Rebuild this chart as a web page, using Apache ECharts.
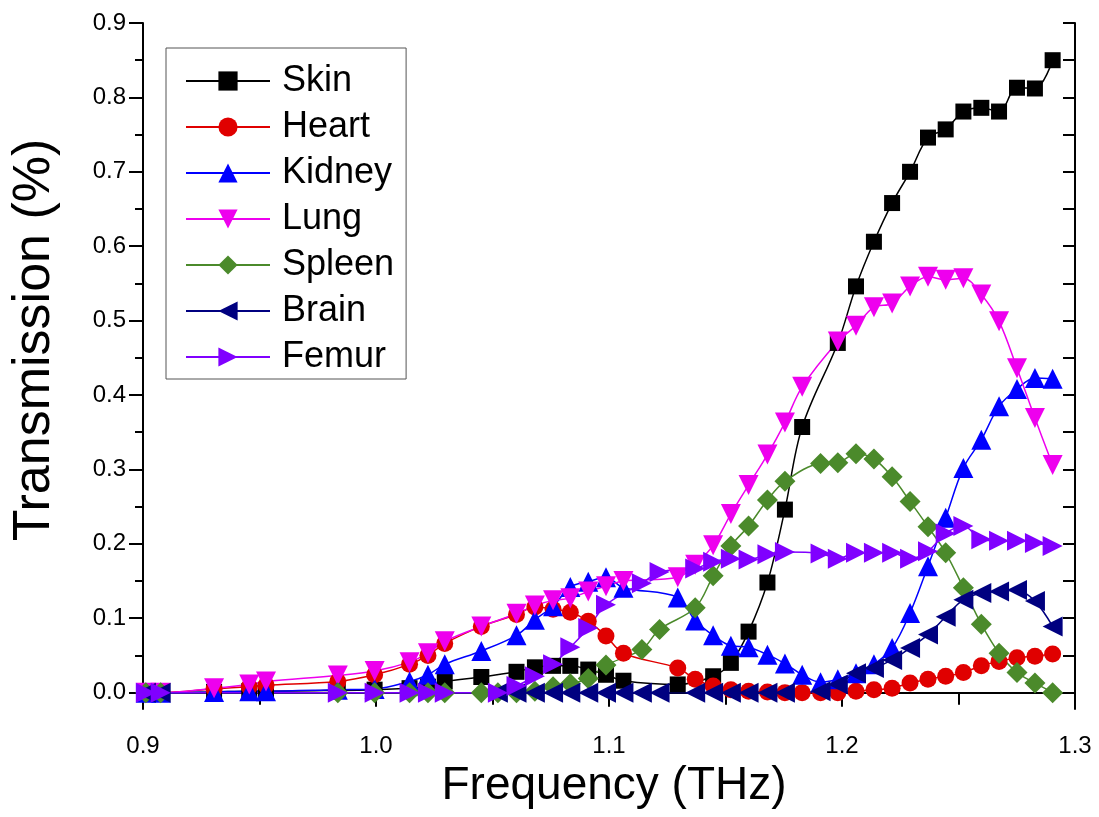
<!DOCTYPE html>
<html style="height: 100%">
<head>
<meta charset="utf-8">
<script src="https://cdn.jsdelivr.net/npm/echarts@6/dist/echarts.min.js"></script>
</head>
<body style="height: 100%; margin: 0; background: #fff">
<div id="container" style="width: 1099px; height: 817px"></div>
<script type="text/javascript">
// frequency grid (THz)
var freq = [0.9012, 0.9076, 0.9305, 0.9456, 0.9528, 0.9836, 0.9994, 1.0144, 1.0223, 1.0295,
            1.0452, 1.0523, 1.0603, 1.0682, 1.0760, 1.0834, 1.0911, 1.0987, 1.1062, 1.1141,
            1.1217, 1.1295, 1.1370, 1.1447, 1.1523, 1.1599, 1.1680, 1.1755, 1.1829, 1.1908,
            1.1982, 1.2060, 1.2137, 1.2215, 1.2292, 1.2369, 1.2445, 1.2521, 1.2598, 1.2674,
            1.2751, 1.2828, 1.2904];

// null = no point at that frequency
var skin   = [0, 0, 0.001, 0.002, 0.002, 0.003, 0.004, 0.006, 0.008, 0.015,
              0.021, null, 0.028, 0.034, 0.036, 0.036, 0.031, 0.024, 0.016, null,
              null, 0.011, null, 0.022, 0.040, 0.082, 0.148, 0.246, 0.357, null,
              0.470, 0.546, 0.606, 0.658, 0.700, 0.746, 0.757, 0.781, 0.786, 0.781,
              0.813, 0.812, 0.850];
var heart  = [0, 0, 0.005, 0.008, 0.010, 0.015, 0.024, 0.038, 0.050, 0.066,
              0.089, null, 0.105, 0.115, 0.112, 0.108, 0.096, 0.076, 0.053, null,
              null, 0.033, 0.018, 0.009, 0.004, 0.002, 0.001, 0, 0, 0,
              0, 0.002, 0.004, 0.006, 0.013, 0.018, 0.022, 0.027, 0.036, 0.042,
              0.047, 0.049, 0.052];
var kidney = [0, 0, 0.001, 0.002, 0.002, 0.004, 0.005, 0.015, 0.024, 0.038,
              0.056, null, 0.077, 0.098, 0.116, 0.142, 0.149, 0.155, 0.141, null,
              null, 0.128, 0.097, 0.077, 0.063, 0.061, 0.051, 0.039, 0.024, 0.014,
              0.018, 0.026, 0.038, 0.060, 0.107, 0.170, 0.235, 0.302, 0.340, 0.385,
              0.408, 0.423, 0.422];
var lung   = [0, 0, 0.006, 0.011, 0.015, 0.023, 0.029, 0.041, 0.053, 0.069,
              0.089, null, 0.106, 0.117, 0.124, 0.127, 0.136, 0.143, 0.150, null,
              null, 0.155, 0.172, 0.198, 0.240, 0.279, 0.320, 0.363, 0.411, null,
              0.472, 0.493, 0.518, 0.523, 0.546, 0.559, 0.555, 0.557, 0.535, 0.499,
              0.436, 0.369, 0.306];
var spleen = [0, 0, null, null, null, 0, 0, 0, 0, 0,
              0, 0, 0, 0.002, 0.008, 0.012, 0.019, 0.037, null, 0.058,
              0.085, null, 0.114, 0.157, 0.197, 0.224, 0.259, 0.284, null, 0.308,
              0.309, 0.321, 0.314, 0.290, 0.257, 0.223, 0.188, 0.141, 0.092, 0.053,
              0.027, 0.013, 0.000];
var brain  = [0, 0, null, null, null, null, null, null, null, null,
              null, 0, 0, 0, 0, 0, 0, 0, 0, 0,
              0, null, 0, 0, 0, 0, 0, 0, null, 0.002,
              0.011, 0.026, 0.033, 0.044, 0.060, 0.078, 0.102, 0.125, 0.134, 0.136,
              0.138, 0.123, 0.089];
var femur  = [0, 0, null, null, null, 0, 0, 0, 0, 0,
              null, 0, 0.009, 0.022, 0.038, 0.061, 0.087, 0.118, null, 0.147,
              0.162, null, 0.167, 0.176, 0.180, 0.179, 0.186, 0.189, null, 0.187,
              0.180, 0.188, 0.188, 0.188, 0.180, 0.190, 0.214, 0.224, 0.206, 0.204,
              0.204, 0.201, 0.197];

var names   = ['Skin', 'Heart', 'Kidney', 'Lung', 'Spleen', 'Brain', 'Femur'];
var values  = [skin, heart, kidney, lung, spleen, brain, femur];
var colors  = ['#000000', '#e00000', '#0000ff', '#ee00ee', '#4b8a2b', '#000080', '#8000ff'];
var symbols = ['rect', 'circle', 'triangle', 'triangle', 'diamond', 'triangle', 'triangle'];
var rotates = [0, 0, 0, 180, 0, 90, -90];
var sizes   = [16, 17, 20, 20, 21, 20, 20];

var yTicks = [0, 0.1, 0.2, 0.3, 0.4, 0.5, 0.6, 0.7, 0.8, 0.9];
var yMinor = [0.05, 0.15, 0.25, 0.35, 0.45, 0.55, 0.65, 0.75, 0.85];
var yAll = [0, 0.05, 0.1, 0.15, 0.2, 0.25, 0.3, 0.35, 0.4, 0.45, 0.5, 0.55, 0.6, 0.65, 0.7, 0.75, 0.8, 0.85, 0.9];

var FONT = '"Liberation Sans", Arial, sans-serif';

function pairs(v) {
    var out = [];
    for (var i = 0; i < freq.length; i++) {
        if (v[i] != null) out.push([freq[i], v[i]]);
    }
    return out;
}

var series = names.map(function (n, k) {
    return {
        name: n,
        type: 'line',
        data: pairs(values[k]),
        smooth: 0.35,
        symbol: symbols[k],
        symbolRotate: rotates[k],
        symbolSize: sizes[k],
        showAllSymbol: true,
        xAxisIndex: 0,
        yAxisIndex: 0,
        lineStyle: {color: colors[k], width: 1.5},
        itemStyle: {color: colors[k], borderWidth: 0}
    };
});

var myChart = echarts.init(document.getElementById('container'));
var option = {
    animation: false,
    backgroundColor: '#fff',
    grid: {left: 143, right: 24, top: 23, bottom: 108, outerBoundsMode: 'none'},
    legend: {
        orient: 'vertical',
        left: 166,
        top: 48,
        padding: [15, 12, 4, 19],
        itemGap: 10,
        itemWidth: 84,
        itemHeight: 24,
        borderColor: '#555',
        borderWidth: 1,
        textStyle: {fontFamily: FONT, fontSize: 36, color: '#000', lineHeight: 36, padding: [0, 0, 0, 7]},
        data: names
    },
    xAxis: [
        {
            type: 'value', position: 'bottom',
            min: 0.9, max: 1.3, interval: 0.1,
            name: 'Frequency (THz)', nameLocation: 'middle', nameGap: 42,
            nameTextStyle: {fontFamily: FONT, fontSize: 46, color: '#000', padding: [0, 0, 0, 10]},
            axisLine: {show: true, lineStyle: {color: '#000', width: 2}},
            axisTick: {show: true, inside: false, length: 14, lineStyle: {color: '#000', width: 2}},
            minorTick: {show: true, splitNumber: 2, length: 8, lineStyle: {color: '#000', width: 2}},
            axisLabel: {fontFamily: FONT, fontSize: 24, color: '#000', margin: 25,
                formatter: function (v) { return v.toFixed(1); }},
            splitLine: {show: false}
        },
        {
            type: 'value', position: 'top',
            min: 0.9, max: 1.3, interval: 0.05,
            axisLine: {show: true, lineStyle: {color: '#000', width: 2}},
            axisTick: {show: true, inside: true, length: 12, lineStyle: {color: '#000', width: 2}},
            axisLabel: {show: false},
            splitLine: {show: false}
        }
    ],
    yAxis: [
        {
            type: 'value', position: 'left',
            min: -0.022, max: 0.9,
            name: 'Transmission (%)', nameLocation: 'middle', nameGap: 82, nameRotate: 90,
            nameTextStyle: {fontFamily: FONT, fontSize: 52, color: '#000', padding: [0, 0, 0, 52]},
            axisLine: {show: true, lineStyle: {color: '#000', width: 2}},
            axisTick: {show: true, inside: false, length: 14, customValues: yTicks,
                lineStyle: {color: '#000', width: 2}},
            axisLabel: {fontFamily: FONT, fontSize: 24, color: '#000', margin: 17, customValues: yTicks,
                formatter: function (v) { return v.toFixed(1); }},
            splitLine: {show: false}
        },
        {
            type: 'value', position: 'left',
            min: -0.022, max: 0.9,
            axisLine: {show: false},
            axisTick: {show: true, inside: false, length: 8, customValues: yMinor,
                lineStyle: {color: '#000', width: 2}},
            axisLabel: {show: false},
            splitLine: {show: false}
        },
        {
            type: 'value', position: 'right',
            min: -0.022, max: 0.9,
            axisLine: {show: true, lineStyle: {color: '#000', width: 2}},
            axisTick: {show: true, inside: true, length: 12, customValues: yAll,
                lineStyle: {color: '#000', width: 2}},
            axisLabel: {show: false},
            splitLine: {show: false}
        }
    ],
    series: series
};
myChart.setOption(option);
</script>
</body>
</html>
